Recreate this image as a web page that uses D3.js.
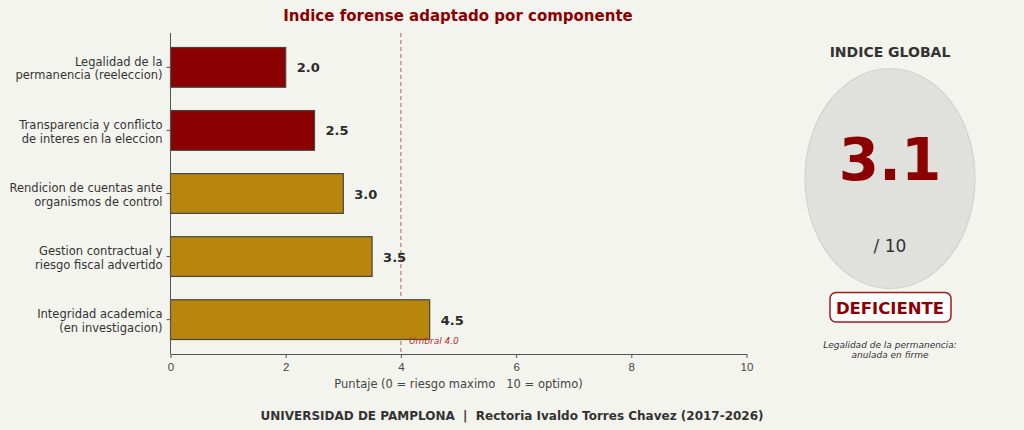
<!DOCTYPE html>
<html>
  <head>
    <title>Indice forense adaptado</title>
    <script src="https://d3js.org/d3.v7.min.js"></script>
    <style>
      body { margin: 0; background: #f4f4ef; }
      svg { font-family: "DejaVu Sans", sans-serif; }
      .axis text { font-size: 11.5px; fill: #444; }
      .axis path, .axis line { stroke: #555; }
      .cat-label { font-size: 11.5px; fill: #333; }
      .value-label { font-size: 13px; font-weight: bold; fill: #2b2b2b; }
      .pre { white-space: pre; }
    </style>
  </head>
  <body>
    <svg width="1024" height="430"></svg>
    <script>
      const categories = [
        "Legalidad de la\npermanencia (reeleccion)",
        "Transparencia y conflicto\nde interes en la eleccion",
        "Rendicion de cuentas ante\norganismos de control",
        "Gestion contractual y\nriesgo fiscal advertido",
        "Integridad academica\n(en investigacion)"
      ];
      const scores = [2.0, 2.5, 3.0, 3.5, 4.5];
      const xTicks = [0, 2, 4, 6, 8, 10];
      const threshold = 4.0;
      const globalIndex = 3.1;
      const critical = 2.5;

      const svg = d3.select("svg");
      svg.append("rect").attr("width", 1024).attr("height", 430).attr("fill", "#f4f4ef");

      const x = d3.scaleLinear().domain([0, 10]).range([170.5, 746.5]);
      const y = d3.scaleBand()
        .domain(categories)
        .range([33, 354])
        .paddingInner(0.37)
        .paddingOuter(0.23);

      // title
      svg.append("text")
        .attr("x", 458).attr("y", 21)
        .attr("text-anchor", "middle")
        .attr("font-size", 15).attr("font-weight", "bold")
        .attr("fill", "#8b0000")
        .text("Indice forense adaptado por componente");

      // threshold line
      svg.append("line")
        .attr("x1", x(threshold)).attr("x2", x(threshold))
        .attr("y1", 33).attr("y2", 354)
        .attr("stroke", "#a83232").attr("stroke-width", 1)
        .attr("stroke-dasharray", "4,3").attr("opacity", 0.8);

      // bars
      svg.append("g").selectAll("rect")
        .data(scores)
        .join("rect")
          .attr("x", x(0))
          .attr("y", (d, i) => y(categories[i]))
          .attr("width", d => x(d) - x(0))
          .attr("height", y.bandwidth())
          .attr("fill", d => d <= critical ? "#8b0000" : "#b8860b")
          .attr("stroke", "#444").attr("stroke-width", 1.2);

      svg.append("g").selectAll("text")
        .data(scores)
        .join("text")
          .attr("class", "value-label")
          .attr("x", d => x(d) + 11)
          .attr("y", (d, i) => y(categories[i]) + y.bandwidth() / 2 + 5)
          .text(d => d.toFixed(1));

      svg.append("text")
        .attr("x", x(threshold) + 8).attr("y", 344)
        .attr("font-size", 9).attr("font-style", "italic")
        .attr("fill", "#a83232")
        .text("Umbral " + threshold.toFixed(1));

      // axes
      svg.append("g")
        .attr("class", "axis")
        .attr("transform", "translate(0,354)")
        .call(d3.axisBottom(x).tickValues(xTicks).tickSize(4).tickPadding(5).tickSizeOuter(0).tickFormat(d3.format("d")));

      const yAxis = svg.append("g")
        .attr("class", "axis")
        .attr("transform", `translate(${x(0)},0)`)
        .call(d3.axisLeft(y).tickSize(4).tickSizeOuter(0).tickFormat(""));
      yAxis.select(".domain").attr("d", "M0,33V354");

      svg.append("g").selectAll("text")
        .data(categories)
        .join("text")
          .attr("class", "cat-label")
          .attr("text-anchor", "end")
          .attr("x", x(0) - 8)
          .attr("y", d => y(d) + y.bandwidth() / 2)
          .each(function(d) {
            const lines = d.split("\n");
            d3.select(this).selectAll("tspan")
              .data(lines)
              .join("tspan")
                .attr("x", x(0) - 8)
                .attr("dy", (l, j) => j === 0 ? "-0.1em" : "1.15em")
                .text(l => l);
          });

      svg.append("text")
        .attr("class", "pre")
        .attr("x", x(5)).attr("y", 388)
        .attr("text-anchor", "middle")
        .attr("font-size", 11.5).attr("fill", "#444")
        .text("Puntaje (0 = riesgo maximo   10 = optimo)");

      // footer
      svg.append("text")
        .attr("class", "pre")
        .attr("x", 512).attr("y", 420)
        .attr("text-anchor", "middle")
        .attr("font-size", 12).attr("font-weight", "bold")
        .attr("fill", "#333")
        .text("UNIVERSIDAD DE PAMPLONA  |  Rectoria Ivaldo Torres Chavez (2017-2026)");

      // global index panel
      const cx = 890;
      svg.append("text")
        .attr("x", cx).attr("y", 57)
        .attr("text-anchor", "middle")
        .attr("font-size", 14).attr("font-weight", "bold").attr("fill", "#333")
        .text("INDICE GLOBAL");

      svg.append("ellipse")
        .attr("cx", cx).attr("cy", 178.5)
        .attr("rx", 85).attr("ry", 110)
        .attr("fill", "#e0e0dc").attr("stroke", "#d2d2ce").attr("stroke-width", 1.2);

      svg.append("text")
        .attr("x", cx).attr("y", 180)
        .attr("text-anchor", "middle")
        .attr("font-size", 58).attr("font-weight", "bold").attr("fill", "#8b0000")
        .text(globalIndex.toFixed(1));

      svg.append("text")
        .attr("x", cx).attr("y", 252)
        .attr("text-anchor", "middle")
        .attr("font-size", 17).attr("fill", "#333")
        .text("/ 10");

      svg.append("rect")
        .attr("x", 830).attr("y", 292.5)
        .attr("width", 121).attr("height", 29.5)
        .attr("rx", 6)
        .attr("fill", "#fff").attr("stroke", "#a01c1c").attr("stroke-width", 1.5);

      svg.append("text")
        .attr("x", cx).attr("y", 313.5)
        .attr("text-anchor", "middle")
        .attr("font-size", 16.5).attr("font-weight", "bold").attr("fill", "#8b0000")
        .text("DEFICIENTE");

      svg.append("text")
        .attr("text-anchor", "middle")
        .attr("font-size", 9).attr("font-style", "italic").attr("fill", "#333")
        .selectAll("tspan")
        .data(["Legalidad de la permanencia:", "anulada en firme"])
        .join("tspan")
          .attr("x", cx)
          .attr("y", (d, i) => 348 + i * 10)
          .text(d => d);
    </script>
  </body>
</html>
